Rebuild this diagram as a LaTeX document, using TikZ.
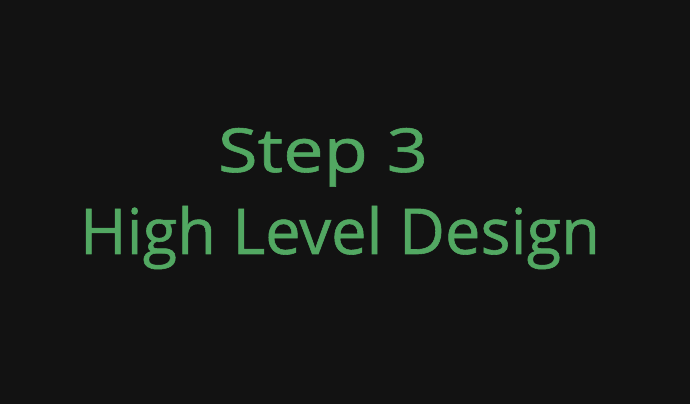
\documentclass[tikz,border=0pt]{standalone}
\usepackage{fontspec}
\setmainfont{Open Sans}
\newfontfamily\titlefont{Open Sans}[FakeBold=0.9]
\usepackage{graphicx}
\definecolor{bgdark}{RGB}{18,18,18}
\definecolor{txtgreen}{RGB}{82,168,98}
\begin{document}
\begin{tikzpicture}[x=1pt,y=1pt,
  title/.style={text=txtgreen, inner sep=0pt, anchor=base}]
\fill[bgdark] (0,0) rectangle (690,404);
\useasboundingbox (0,0) rectangle (690,404);
\node[title] (step) at (323,232) {\resizebox{210pt}{44pt}{\titlefont\fontsize{60}{72}\selectfont Step 3}};
\node[title] (hld) at (340,150) {\resizebox{520pt}{!}{\titlefont\fontsize{60}{72}\selectfont High Level Design}};
\end{tikzpicture}
\end{document}
